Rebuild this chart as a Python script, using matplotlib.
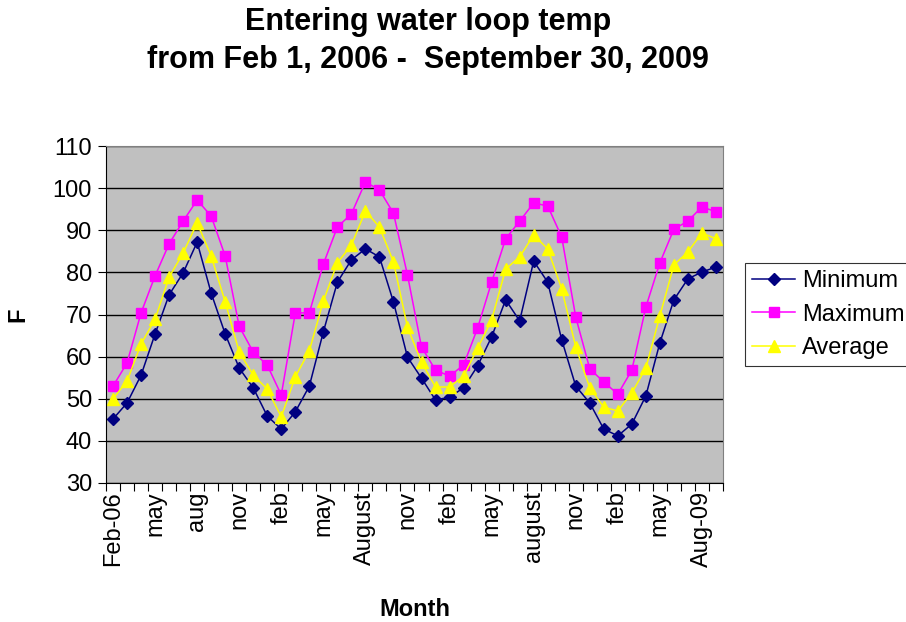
import matplotlib
matplotlib.use("Agg")
import matplotlib.pyplot as plt
import numpy as np

plt.rcParams['font.family'] = ['Liberation Sans', 'DejaVu Sans']

# Monthly entering water loop temperatures, Feb 2006 .. Sep 2009 (deg F)
minimum = [45.2, 49.0, 55.6, 65.4, 74.7, 79.9, 87.2, 75.1, 65.4, 57.3, 52.6, 45.9,
           42.8, 46.9, 53.0, 65.9, 77.7, 83.0, 85.6, 83.7, 73.0, 59.9, 54.9, 49.7,
           50.4, 52.6, 57.8, 64.7, 73.5, 68.5, 82.7, 77.7, 64.0, 53.0, 49.0, 42.8,
           41.2, 44.0, 50.7, 63.3, 73.5, 78.5, 80.1, 81.3]
maximum = [53.0, 58.5, 70.4, 79.2, 86.8, 92.2, 97.2, 93.4, 83.9, 67.2, 61.1, 58.0,
           50.9, 70.4, 70.4, 82.0, 90.8, 93.9, 101.5, 99.6, 94.1, 79.4, 62.3, 56.8,
           55.4, 58.0, 66.8, 77.7, 88.0, 92.2, 96.5, 95.8, 88.4, 69.4, 57.1, 54.0,
           51.1, 56.8, 71.8, 82.3, 90.3, 92.2, 95.6, 94.4]
average = [50.0, 54.2, 63.0, 68.9, 78.9, 84.6, 91.8, 83.9, 73.0, 61.1, 55.6, 52.3,
           45.7, 55.2, 61.4, 73.2, 82.3, 86.5, 94.6, 90.8, 82.5, 67.0, 58.7, 52.8,
           52.8, 55.4, 62.0, 68.7, 80.8, 83.7, 88.9, 85.6, 76.1, 62.3, 52.6, 48.0,
           47.1, 51.4, 57.3, 69.7, 81.8, 84.9, 89.4, 88.0]

month_labels = ['Feb-06', 'may', 'aug', 'nov', 'feb', 'may', 'August', 'nov',
                'feb', 'may', 'august', 'nov', 'feb', 'may', 'Aug-09']

n = len(minimum)
x = np.arange(n)

fig = plt.figure(figsize=(9.06, 6.22), dpi=100)
ax = fig.add_axes([0.117, 0.2235, 0.681, 0.5415])
ax.set_facecolor('#C0C0C0')

ax.plot(x, minimum, color='#000080', marker='D', markersize=6.5, lw=1.1, label='Minimum')
ax.plot(x, maximum, color='#FF00FF', marker='s', markersize=7, lw=1.1, label='Maximum')
ax.plot(x, average, color='#FFFF00', marker='^', markersize=8.5, lw=1.1, label='Average')

ax.set_xlim(-0.5, n - 0.5)
ax.set_ylim(30, 110)
ax.set_yticks(np.arange(30, 111, 10))
ax.yaxis.grid(True, color='black', lw=1.0)
ax.set_axisbelow(True)

# category boundaries carry the tick marks, labels sit at every third month
ax.set_xticks(np.arange(-0.5, n, 1.0))
ax.set_xticklabels([])
ax.set_xticks(np.arange(0, n, 3), minor=True)
ax.set_xticklabels(month_labels, minor=True, rotation=90, fontsize=17)
ax.tick_params(axis='x', which='major', direction='out', length=6, width=0.8, color='black')
ax.tick_params(axis='x', which='minor', length=0, pad=6)
ax.tick_params(axis='y', direction='out', length=6, width=0.8, labelsize=17, pad=4)

for side in ('top', 'right'):
    ax.spines[side].set_color('#808080')
for side in ('left', 'bottom'):
    ax.spines[side].set_color('black')

ax.set_ylabel('F', fontsize=17, fontweight='bold', va='center')
ax.yaxis.set_label_coords(-0.143, 0.5)
ax.set_xlabel('Month', fontsize=17, fontweight='bold', labelpad=22)

fig.text(0.472, 0.965, 'Entering water loop temp', ha='center', va='center',
         fontsize=22, fontweight='bold')
fig.text(0.472, 0.904, 'from Feb 1, 2006 -  September 30, 2009', ha='center', va='center',
         fontsize=22, fontweight='bold')

leg = ax.legend(loc='center left', bbox_to_anchor=(1.036, 0.5), fontsize=17,
                frameon=True, fancybox=False, edgecolor='black', handlelength=1.8,
                borderpad=0.3, labelspacing=0.48, handletextpad=0.3, borderaxespad=0)
leg.get_frame().set_linewidth(0.8)

fig.savefig('out.png', dpi=100)
